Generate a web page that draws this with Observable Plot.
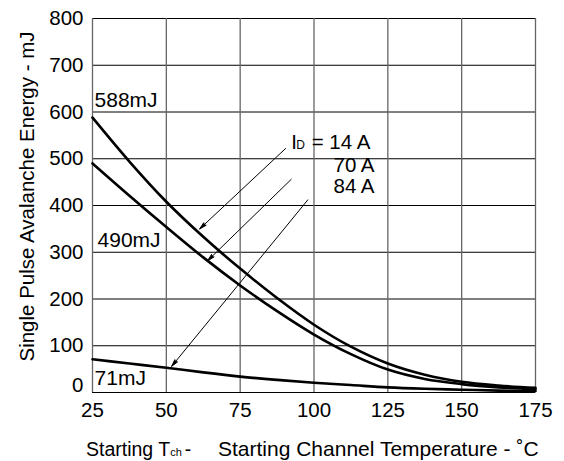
<!DOCTYPE html>
<html>
<head>
<meta charset="utf-8">
<script src="https://cdn.jsdelivr.net/npm/d3@7"></script>
<script src="https://cdn.jsdelivr.net/npm/@observablehq/plot@0.6"></script>
<style>
  html, body { margin: 0; padding: 0; background: #fff; }
  #chart svg { display: block; }
</style>
</head>
<body>
<div id="chart"></div>
<script>
// ---- data ----
const temps = [25, 37.5, 50, 62.5, 75, 87.5, 100, 112.5, 125, 137.5, 150, 162.5, 175];
const e14 = [588, 494, 408, 333, 265, 202, 145, 98, 62, 38, 23, 15, 10];
const e70 = [490, 421, 354, 289, 229, 174, 124, 82, 49, 29, 18, 11, 7];
const e84 = [71, 62, 53, 43, 34, 27, 21, 16, 11, 8, 6, 4, 3];
const seriesNames = ["14 A", "70 A", "84 A"];
const seriesValues = [e14, e70, e84];

const xTicks = [25, 50, 75, 100, 125, 150, 175];
const yTicks = [0, 100, 200, 300, 400, 500, 600, 700, 800];

// value annotations
const valueLabels = ["588mJ", "490mJ", "71mJ"];
const valueLabelX = [25.7, 26.7, 25.7];
const valueLabelY = [610, 311, 15];

// current legend annotations
const idLabels = ["= 14 A", "70 A", "84 A"];
const idLabelX = [119.1, 120.5, 120.5];
const idLabelY = [520, 471, 427];

// arrows
const arrowX1 = [90.4, 92.3, 97.9];
const arrowY1 = [522, 456, 412];
const arrowX2 = [61.3, 64.0, 51.8];
const arrowY2 = [350, 282, 56];

// ---- build tables ----
const rows = seriesNames.flatMap((name, i) =>
  temps.map((t, j) => ({series: name, t, e: seriesValues[i][j]})));
const valueRows = valueLabels.map((s, i) => ({s, x: valueLabelX[i], y: valueLabelY[i]}));
const idRows = idLabels.map((s, i) => ({s, x: idLabelX[i], y: idLabelY[i]}));
const arrowRows = arrowX1.map((x, i) => ({x1: x, y1: arrowY1[i], x2: arrowX2[i], y2: arrowY2[i]}));

const FONT = "'Liberation Sans', Arial, Helvetica, sans-serif";

const chart = Plot.plot({
  width: 564,
  height: 461,
  marginLeft: 92,
  marginRight: 29,
  marginTop: 18,
  marginBottom: 69,
  style: {fontFamily: FONT, background: "white", color: "black"},
  x: {domain: [25, 175]},
  y: {domain: [0, 800]},
  marks: [
    Plot.gridY(yTicks, {stroke: "#000", strokeOpacity: 1, strokeWidth: 1}),
    Plot.gridX(xTicks, {stroke: "#666", strokeOpacity: 1, strokeWidth: 1.3}),
    Plot.axisX(xTicks, {tickSize: 0, tickPadding: 10, fontSize: 20.5, label: null}),
    Plot.axisY(yTicks.filter(d => d > 0), {tickSize: 0, tickPadding: 9, fontSize: 20.5, label: null}),
    Plot.axisY([0], {tickSize: 0, tickPadding: 9, fontSize: 20.5, label: null, dy: -7}),
    Plot.line(rows, {x: "t", y: "e", z: "series", stroke: "black", strokeWidth: 2.6, curve: "monotone-x"}),
    Plot.arrow(arrowRows, {x1: "x1", y1: "y1", x2: "x2", y2: "y2", stroke: "black", fill: "black", strokeWidth: 1, headLength: 11, headAngle: 28}),
    Plot.text(valueRows, {x: "x", y: "y", text: "s", textAnchor: "start", lineAnchor: "bottom", fontSize: 21, fill: "black"}),
    Plot.text(idRows, {x: "x", y: "y", text: "s", textAnchor: "end", lineAnchor: "bottom", fontSize: 20.5, fill: "black"}),
    Plot.text(["I"], {x: 92.3, y: 520, textAnchor: "start", lineAnchor: "bottom", fontSize: 20.5, fill: "black"}),
    Plot.text(["D"], {x: 94.0, y: 520, textAnchor: "start", lineAnchor: "bottom", fontSize: 12, fill: "black"}),
    Plot.text(["Single Pulse Avalanche Energy - mJ"], {frameAnchor: "left", rotate: -90, dx: -59, dy: -9, textAnchor: "middle", lineAnchor: "bottom", fontSize: 20.5, fill: "black"})
  ]
});

document.getElementById("chart").appendChild(chart);

// x-axis title with subscript
const svg = d3.select(chart);
const t = svg.append("text")
  .attr("x", 86).attr("y", 455.7)
  .attr("font-size", 19.5)
  .attr("fill", "black")
  .attr("text-anchor", "start")
  .style("font-family", FONT);
t.append("tspan").text("Starting T");
t.append("tspan").attr("font-size", 11).text("ch");
t.append("tspan").attr("dx", 3).text("-");
t.append("tspan").attr("x", 218).attr("font-size", 21).text("Starting Channel Temperature - ˚C");
</script>
</body>
</html>
